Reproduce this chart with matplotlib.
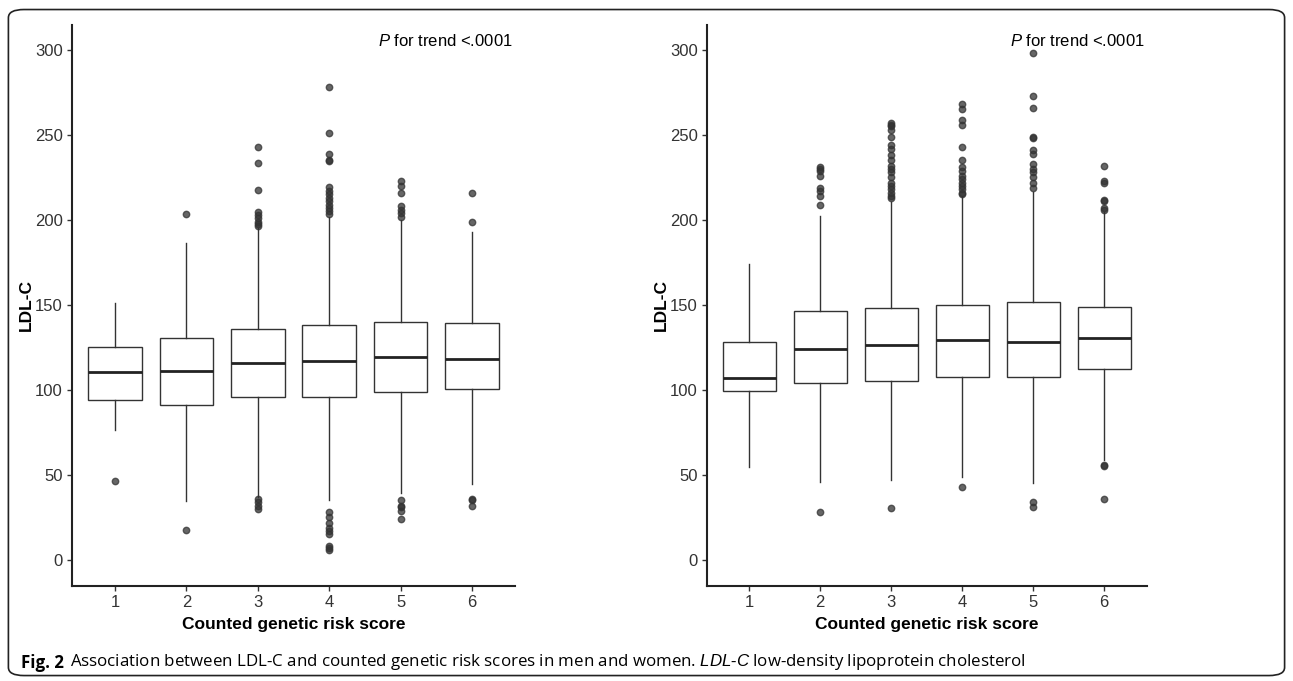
import matplotlib.pyplot as plt
from matplotlib.patches import FancyBboxPatch

# Counted genetic risk score groups
scores = [1, 2, 3, 4, 5, 6]

# Men (left panel) box stats
menQ1 = [94, 91, 96, 96, 98.6, 100.8]
menMed = [110.4, 111.2, 115.7, 117.3, 119.6, 118]
menQ3 = [125, 130.4, 135.9, 138.2, 139.8, 139.2]
menWhisLo = [76.3, 34.9, 37, 35, 39.2, 44.7]
menWhisHi = [151, 186.3, 195.5, 202, 200, 193.1]
menFliers = [
    [46.6],
    [203.7, 17.6],
    [242.7, 233.5, 217.5, 204.5, 203, 201, 199, 197.5, 196.5, 36, 34, 32, 30],
    [278.4, 251, 239, 235.5, 234.5, 219.6, 217, 215, 213, 211, 209, 207, 205, 203.5,
     28.4, 25, 22, 19, 17, 15, 8, 7, 6],
    [223, 220, 216, 208, 206, 204, 202, 35, 32, 31, 29, 24],
    [216, 199, 36, 35, 32],
]

# Women (right panel)
womenQ1 = [99.4, 104.3, 105.5, 107.8, 107.8, 112.2]
womenMed = [107.2, 123.9, 126.5, 129.4, 128.4, 130.8]
womenQ3 = [128.4, 146.5, 148, 150.2, 151.9, 149]
womenWhisLo = [54.9, 45.9, 46.9, 48.8, 45.5, 58.6]
womenWhisHi = [174, 202.4, 210.8, 214.4, 216.7, 204.9]
womenFliers = [
    [],
    [231, 230, 229, 226, 219, 217, 214, 209, 28.1],
    [257, 256, 255, 253, 249, 244, 242, 238, 235, 232, 230, 228, 225, 222, 220,
     218, 216, 214, 213, 30.4],
    [268, 265, 259, 256, 243, 235, 231, 229, 226, 224, 222, 220, 218, 216, 215, 42.8],
    [298, 273, 266, 249, 248, 241, 239, 233, 230, 228, 225, 222, 219, 34, 31],
    [232, 223, 222, 212, 211, 207, 206, 56, 55, 36],
]

yTicks = [0, 50, 100, 150, 200, 250, 300]
pText = "$\\it{P}$ for trend <.0001"
xLabel = "Counted genetic risk score"
yLabel = "LDL-C"
captionHead = "Fig. 2"
captionBody = ("Association between LDL-C and counted genetic risk scores in men and women. "
               "$\\it{LDL}$-$\\it{C}$ low-density lipoprotein cholesterol")

lineColour = "#333333"
textColour = "#333333"
chartFont = "Liberation Sans"

fig = plt.figure(figsize=(12.93, 6.81), dpi=100)
plt.rcParams.update({"font.family": chartFont, "mathtext.fontset": "custom",
                     "mathtext.it": "Liberation Sans:italic", "mathtext.rm": "Liberation Sans"})

panelRects = [[0.0557, 0.1395, 0.3426, 0.8238], [0.5466, 0.1395, 0.3403, 0.8238]]
panelData = [
    (menQ1, menMed, menQ3, menWhisLo, menWhisHi, menFliers),
    (womenQ1, womenMed, womenQ3, womenWhisLo, womenWhisHi, womenFliers),
]

for rect, (q1, med, q3, lo, hi, fl) in zip(panelRects, panelData):
    ax = fig.add_axes(rect)
    stats = []
    for i in range(len(scores)):
        stats.append({"q1": q1[i], "med": med[i], "q3": q3[i],
                      "whislo": lo[i], "whishi": hi[i], "fliers": fl[i]})
    ax.bxp(stats, positions=scores, widths=0.75, showcaps=False, patch_artist=True,
           boxprops=dict(facecolor="white", edgecolor=lineColour, linewidth=1.0),
           medianprops=dict(color="#222222", linewidth=2.0),
           whiskerprops=dict(color=lineColour, linewidth=1.0),
           flierprops=dict(marker="o", markersize=4.6, markerfacecolor="#333333",
                           markeredgecolor="#333333", alpha=0.75, linestyle="none"))
    ax.set_xlim(0.4, 6.6)
    ax.set_ylim(-15.3, 314.7)
    ax.set_yticks(yTicks)
    ax.set_xticks(scores)
    ax.set_xticklabels([str(s) for s in scores])
    for side in ["top", "right"]:
        ax.spines[side].set_visible(False)
    for side in ["left", "bottom"]:
        ax.spines[side].set_linewidth(1.5)
        ax.spines[side].set_color("#222222")
    ax.tick_params(axis="both", labelsize=12, colors=textColour, length=3.5, width=1.0, pad=3)
    ax.set_xlabel(xLabel, fontsize=12.5, fontweight="bold", color="black", labelpad=5)
    ax.set_ylabel(yLabel, fontsize=12.5, fontweight="bold", color="black", labelpad=1)
    ax.text(0.995, 0.985, pText, transform=ax.transAxes, ha="right", va="top",
            fontsize=12, color="black")

# Rounded frame around figure and caption
frame = FancyBboxPatch((0.0065, 0.008), 0.987, 0.978, boxstyle="round,pad=0,rounding_size=0.012",
                       transform=fig.transFigure, fill=False, edgecolor="#222222", linewidth=1.2)
fig.patches.append(frame)

head = fig.text(0.0165, 0.013, captionHead, fontsize=12.2, fontweight="bold",
                family="Open Sans", color="black", va="bottom")
fig.axes[0].annotate(captionBody, xy=(1, 0), xycoords=head, xytext=(4, 0),
                     textcoords="offset points", fontsize=12.2, family="Open Sans",
                     color="black", va="bottom", annotation_clip=False)

fig.savefig("out.png", dpi=100)
